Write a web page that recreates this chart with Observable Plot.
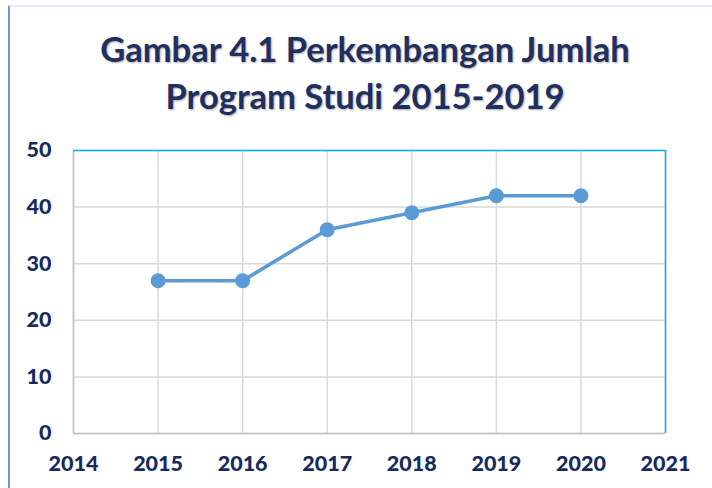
<!DOCTYPE html>
<html><head><meta charset="utf-8">
<script src="https://cdn.jsdelivr.net/npm/d3@7"></script>
<script src="https://cdn.jsdelivr.net/npm/@observablehq/plot@0.6"></script>
<style>
html,body{margin:0;padding:0;background:#fff;}
#wrap{position:relative;width:712px;height:488px;overflow:hidden;}
#border{position:absolute;left:8px;top:5px;width:720px;height:500px;border-left:2px solid #7094d6;border-top:2px solid #e4ebf7;}
#title{position:absolute;left:0;top:25px;width:730px;text-align:center;font-family:Lato,sans-serif;font-weight:700;font-size:34.5px;line-height:47px;color:#1f3060;text-shadow:1px 1px 2px rgba(0,0,0,0.35);}
#chart{position:absolute;left:0;top:130px;}
</style></head>
<body><div id="wrap"><div id="border"></div>
<div id="title">Gambar 4.1 Perkembangan Jumlah<br>Program Studi 2015-2019</div>
<div id="chart"></div></div>
<script>
const years = [2015, 2016, 2017, 2018, 2019, 2020];
const jumlah = [27, 27, 36, 39, 42, 42];
const xTicks = [2014, 2015, 2016, 2017, 2018, 2019, 2020, 2021];
const yTicks = [0, 10, 20, 30, 40, 50];
const data = years.map((y, i) => ({tahun: y, jumlah: jumlah[i]}));

const plot = Plot.plot({
  width: 712,
  height: 358,
  marginLeft: 73,
  marginRight: 47,
  marginTop: 20,
  marginBottom: 55,
  style: {fontFamily: "Lato, sans-serif", fontSize: "21.5px", fontWeight: "900", color: "#152a5e", background: "transparent"},
  x: {domain: [2014, 2021]},
  y: {domain: [0, 50]},
  marks: [
    Plot.gridX(xTicks, {stroke: "#d9d9d9", strokeOpacity: 1, strokeWidth: 1.5}),
    Plot.gridY(yTicks, {stroke: "#d9d9d9", strokeOpacity: 1, strokeWidth: 1.5}),
    Plot.ruleX([2014], {stroke: "#bfbfbf", strokeWidth: 1.5}),
    Plot.ruleY([0], {stroke: "#bfbfbf", strokeWidth: 1.5}),
    Plot.ruleX([2021], {stroke: "#00b0f0", strokeWidth: 1.5}),
    Plot.ruleY([50], {stroke: "#00b0f0", strokeWidth: 1.5}),
    Plot.axisX({ticks: xTicks, tickFormat: "d", tickSize: 0, tickPadding: 22, label: null, fontSize: 21.5}),
    Plot.axisY({ticks: yTicks, tickSize: 0, tickPadding: 22, label: null, fontSize: 21.5}),
    Plot.line(data, {x: "tahun", y: "jumlah", stroke: "#5b9bd5", strokeWidth: 3.5}),
    Plot.dot(data, {x: "tahun", y: "jumlah", fill: "#5b9bd5", r: 7.5})
  ]
});
document.getElementById("chart").appendChild(plot);
</script></body></html>
